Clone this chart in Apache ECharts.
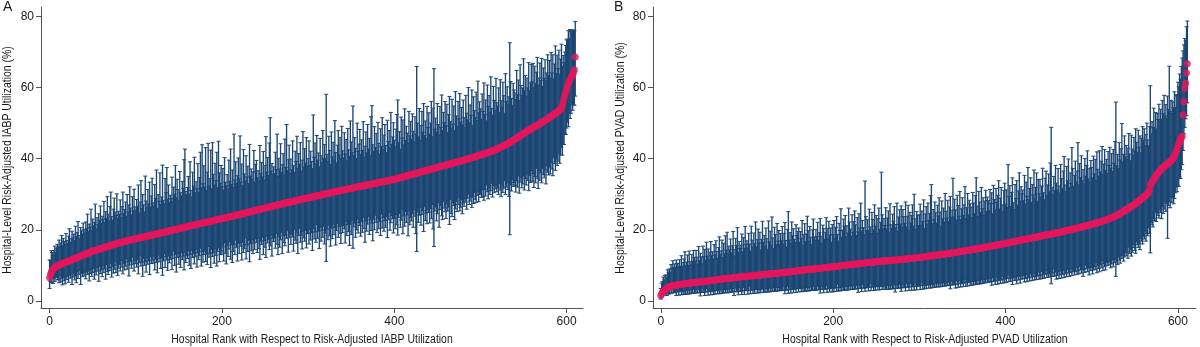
<!DOCTYPE html>
<html><head><meta charset="utf-8">
<script src="https://cdn.jsdelivr.net/npm/echarts@6/dist/echarts.min.js"></script>
<style>html,body{margin:0;padding:0;background:#fff}#c{width:1200px;height:347px}</style>
</head><body><div id="c"></div>
<script>
const tickX = [0, 200, 400, 600];
const tickY = [0, 20, 40, 60, 80];
const panelLabels = ['A', 'B'];
const xTitles = ['Hospital Rank with Respect to Risk-Adjusted IABP Utilization', 'Hospital Rank with Respect to Risk-Adjusted PVAD Utilization'];
const yTitles = ['Hospital-Level Risk-Adjusted IABP Utilization (%)', 'Hospital-Level Risk-Adjusted PVAD Utilization (%)'];

// Panel A: point estimate (%) by hospital rank, upper / lower whisker length (%)
const iabpRate = [
6.5,7.4,8.1,8.6,8.9,9.2,9.4,9.6,9.8,9.9,10.0,10.1,10.2,10.3,10.4,10.5,10.6,10.7,10.8,10.9,
11.0,11.1,11.2,11.3,11.4,11.5,11.6,11.7,11.8,11.9,12.0,12.1,12.2,12.3,12.4,12.5,12.6,12.7,12.8,12.9,
13.0,13.1,13.2,13.3,13.4,13.5,13.6,13.7,13.8,13.9,14.0,14.1,14.1,14.2,14.3,14.4,14.4,14.5,14.6,14.7,
14.8,14.8,14.9,15.0,15.1,15.1,15.2,15.3,15.4,15.4,15.5,15.6,15.7,15.7,15.8,15.9,16.0,16.0,16.1,16.2,
16.2,16.3,16.4,16.4,16.5,16.6,16.6,16.7,16.8,16.8,16.9,17.0,17.0,17.1,17.1,17.2,17.3,17.3,17.4,17.4,
17.5,17.5,17.6,17.6,17.7,17.8,17.8,17.9,17.9,18.0,18.0,18.1,18.1,18.2,18.3,18.3,18.4,18.4,18.5,18.5,
18.6,18.6,18.7,18.8,18.8,18.9,18.9,19.0,19.0,19.1,19.2,19.2,19.3,19.3,19.4,19.4,19.5,19.6,19.6,19.7,
19.7,19.8,19.8,19.9,20.0,20.0,20.1,20.1,20.2,20.3,20.3,20.4,20.4,20.5,20.6,20.6,20.7,20.7,20.8,20.8,
20.9,21.0,21.0,21.1,21.1,21.2,21.2,21.3,21.4,21.4,21.5,21.5,21.6,21.6,21.7,21.8,21.8,21.9,21.9,22.0,
22.0,22.1,22.1,22.2,22.3,22.3,22.4,22.4,22.5,22.5,22.6,22.6,22.7,22.8,22.8,22.9,22.9,23.0,23.0,23.1,
23.1,23.2,23.2,23.3,23.4,23.4,23.5,23.5,23.6,23.6,23.7,23.8,23.8,23.9,23.9,24.0,24.1,24.1,24.2,24.2,
24.3,24.4,24.4,24.5,24.5,24.6,24.7,24.7,24.8,24.8,24.9,25.0,25.0,25.1,25.1,25.2,25.3,25.3,25.4,25.4,
25.5,25.6,25.6,25.7,25.7,25.8,25.9,25.9,26.0,26.0,26.1,26.2,26.2,26.3,26.3,26.4,26.5,26.5,26.6,26.6,
26.7,26.8,26.8,26.9,26.9,27.0,27.1,27.1,27.2,27.2,27.3,27.4,27.4,27.5,27.5,27.6,27.7,27.7,27.8,27.8,
27.9,27.9,28.0,28.0,28.1,28.1,28.2,28.3,28.3,28.4,28.4,28.5,28.5,28.6,28.6,28.7,28.8,28.8,28.9,28.9,
29.0,29.0,29.1,29.1,29.2,29.2,29.3,29.4,29.4,29.5,29.5,29.6,29.6,29.7,29.7,29.8,29.9,29.9,30.0,30.0,
30.1,30.1,30.2,30.2,30.3,30.3,30.4,30.5,30.5,30.6,30.6,30.7,30.7,30.8,30.8,30.9,31.0,31.0,31.1,31.1,
31.2,31.2,31.3,31.3,31.4,31.4,31.5,31.5,31.6,31.6,31.7,31.7,31.8,31.8,31.9,31.9,32.0,32.0,32.1,32.1,
32.2,32.2,32.3,32.3,32.4,32.4,32.5,32.5,32.6,32.6,32.7,32.7,32.8,32.8,32.9,32.9,33.0,33.0,33.1,33.1,
33.2,33.2,33.3,33.3,33.4,33.4,33.5,33.5,33.6,33.6,33.7,33.7,33.8,33.8,33.9,33.9,34.0,34.0,34.1,34.1,
34.2,34.3,34.3,34.4,34.5,34.5,34.6,34.7,34.7,34.8,34.9,34.9,35.0,35.1,35.1,35.2,35.3,35.3,35.4,35.5,
35.5,35.6,35.7,35.7,35.8,35.9,35.9,36.0,36.1,36.1,36.2,36.3,36.3,36.4,36.5,36.5,36.6,36.7,36.7,36.8,
36.9,36.9,37.0,37.1,37.1,37.2,37.3,37.3,37.4,37.5,37.5,37.6,37.7,37.7,37.8,37.9,37.9,38.0,38.1,38.1,
38.2,38.3,38.3,38.4,38.5,38.5,38.6,38.7,38.7,38.8,38.9,38.9,39.0,39.1,39.1,39.2,39.3,39.3,39.4,39.5,
39.5,39.6,39.7,39.8,39.8,39.9,40.0,40.1,40.1,40.2,40.3,40.4,40.4,40.5,40.6,40.7,40.7,40.8,40.9,41.0,
41.0,41.1,41.2,41.3,41.3,41.4,41.5,41.6,41.7,41.7,41.8,41.9,42.0,42.1,42.2,42.3,42.4,42.5,42.6,42.7,
42.8,42.9,43.0,43.2,43.3,43.4,43.5,43.7,43.8,43.9,44.0,44.2,44.3,44.4,44.6,44.7,44.9,45.0,45.2,45.3,
45.5,45.6,45.8,46.0,46.1,46.3,46.4,46.6,46.8,46.9,47.1,47.2,47.4,47.6,47.7,47.9,48.0,48.2,48.3,48.5,
48.6,48.8,48.9,49.0,49.2,49.3,49.5,49.6,49.7,49.9,50.0,50.2,50.3,50.5,50.6,50.8,50.9,51.1,51.2,51.4,
51.6,51.7,51.9,52.1,52.2,52.4,52.6,52.7,52.9,53.1,53.3,53.5,53.7,54.0,54.2,55.0,56.0,57.0,58.0,58.8,
59.6,60.3,61.0,61.7,62.3,62.8,63.2,63.6,64.2,65.0,68.6
];
const iabpUp = [
5,4,6,5,4,5,6,4,5,6,5,7,5,6,8,5,7,6,5,8,
6,5,7,9,5,6,8,6,7,5,9,6,7,10,6,5,8,7,6,9,
7,6,9,7,11,6,8,7,12,6,9,7,8,13,6,9,7,10,8,12,
7,9,8,13,7,10,8,14,9,7,11,15,8,7,10,13,9,8,14,7,
9,8,12,7,10,14,8,9,11,7,13,8,10,15,9,7,12,8,14,9,
8,11,9,15,7,10,16,8,12,9,7,17,10,8,13,9,15,8,11,16,
9,8,14,10,18,7,11,9,17,8,10,19,9,8,15,11,18,9,13,8,
10,9,15,8,12,10,18,9,14,11,8,16,10,9,13,11,19,22,10,9,
11,14,9,18,10,8,15,11,19,9,12,10,17,9,13,20,10,22,11,16,
10,21,9,14,22,10,12,20,9,22,13,10,16,11,19,9,22,13,10,15,
9,14,8,17,10,9,12,8,16,10,19,9,13,8,23,10,15,9,11,16,
10,22,9,14,8,18,11,9,16,10,13,8,19,10,12,9,11,17,8,13,
14,9,11,8,18,10,13,9,16,8,12,20,10,14,9,18,25,10,12,9,
11,9,15,10,20,8,13,10,17,9,11,14,8,18,10,22,9,12,16,8,
12,9,17,10,8,14,11,18,9,13,10,16,8,11,19,9,14,10,17,9,
11,16,9,13,10,8,23,11,15,9,17,10,12,8,16,11,9,18,10,14,
10,28,11,9,16,12,8,17,10,14,9,20,11,8,13,17,10,15,9,18,
11,9,16,10,14,8,17,11,9,19,13,10,23,9,14,11,8,18,10,12,
16,9,13,10,18,8,11,15,9,17,10,13,8,19,22,11,9,16,10,14,
9,17,11,8,15,10,18,9,13,16,10,8,17,11,14,9,19,10,12,16,
11,9,14,18,22,10,13,8,17,11,16,9,19,10,14,12,9,18,11,15,
10,17,12,9,16,11,30,14,10,18,9,13,17,11,19,10,14,9,18,12,
16,10,13,19,9,17,28,11,14,10,18,12,9,17,11,20,10,15,12,18,
11,17,9,14,19,12,10,18,11,16,9,20,13,10,17,12,19,11,15,10,
17,12,9,18,13,11,20,10,15,12,19,9,17,13,11,18,10,21,12,15,
13,10,17,12,20,11,15,9,19,13,16,11,21,12,10,18,14,11,20,13,
12,17,10,19,13,11,18,14,9,20,12,16,11,13,28,17,12,10,16,14,
13,11,19,12,16,10,20,14,11,13,21,12,16,10,15,12,19,11,13,18,
13,18,11,17,12,15,19,11,13,17,12,18,10,15,12,17,11,13,18,12,
16,11,18,12,17,10,14,19,11,16,12,17,10,14,18,11,13,10,12,13,
14,13,15,12,14,13,13,12,12,11,10
];
const iabpDown = [
3,2,3,2,4,3,4,3,3,4,4,5,3,5,4,6,4,5,6,4,
5,4,6,4,5,4,7,5,4,6,5,7,4,6,5,4,8,5,6,5,
6,5,7,5,6,5,8,6,5,7,6,5,8,6,7,5,6,9,5,7,
6,8,5,7,6,9,5,7,8,6,7,5,9,6,8,7,5,8,6,9,
7,6,8,5,7,9,6,8,7,5,8,6,10,7,6,8,5,7,9,6,
7,8,6,10,7,5,8,7,11,6,8,7,10,6,8,7,11,6,8,7,
8,6,10,7,8,11,6,8,7,10,7,12,8,6,10,7,8,11,7,9,
8,7,11,8,6,10,7,12,8,7,10,8,11,7,9,8,12,7,10,8,
9,7,11,8,12,7,9,8,11,9,7,12,8,10,9,7,12,8,11,9,
8,11,9,12,7,10,9,13,8,10,9,12,8,10,13,9,8,12,10,9,
10,8,12,7,10,13,8,11,9,7,12,8,13,10,8,11,7,9,13,8,
11,8,9,13,8,11,10,7,13,9,11,8,14,9,11,8,12,9,11,8,
9,12,8,11,14,9,10,8,13,9,11,14,8,10,9,12,11,8,14,9,
10,9,12,8,11,14,9,12,10,8,14,9,11,12,9,10,8,14,10,9,
12,9,10,14,8,11,12,9,15,10,8,12,10,14,9,11,12,9,14,10,
10,13,9,12,10,15,9,12,10,13,8,12,10,15,9,13,10,12,9,14,
11,19,10,13,9,12,15,10,13,9,12,10,15,11,9,13,10,12,15,10,
12,10,11,15,9,13,10,12,16,10,13,9,17,11,10,14,12,9,13,10,
11,14,10,13,9,12,16,10,13,11,9,14,10,13,11,16,10,13,9,11,
14,10,13,11,15,9,13,10,14,11,13,10,16,11,9,14,12,10,11,15,
11,14,10,13,16,11,10,14,12,9,16,11,14,10,13,11,17,10,14,12,
13,11,15,10,12,17,22,11,14,12,10,15,12,11,17,10,14,12,15,11,
12,15,11,14,10,17,22,12,11,15,13,10,17,12,11,14,15,10,12,13,
15,11,13,12,17,10,14,15,11,12,16,13,11,14,12,10,14,13,11,15,
12,13,11,12,14,11,10,13,12,11,14,11,13,10,12,13,11,10,13,11,
11,12,10,12,13,10,12,9,11,13,10,12,11,9,13,10,12,11,10,12,
11,13,10,12,14,11,13,12,10,14,12,11,13,15,26,12,14,11,13,12,
13,15,12,14,11,16,13,12,15,14,12,16,13,15,12,14,17,13,15,12,
15,13,17,14,16,12,15,18,13,16,14,17,13,15,16,14,18,13,15,16,
14,16,13,15,17,12,14,16,13,15,14,12,15,13,11,14,12,13,11,12,
11,10,12,9,11,10,8,10,9,10,11
];

// Panel B: point estimate (%) by hospital rank, upper / lower whisker length (%)
const pvadRate = [
1.5,2.0,2.4,2.7,2.9,3.1,3.3,3.5,3.7,3.9,4.0,4.1,4.2,4.2,4.3,4.3,4.4,4.4,4.5,4.5,
4.6,4.6,4.6,4.7,4.7,4.7,4.8,4.8,4.8,4.9,4.9,4.9,5.0,5.0,5.0,5.1,5.1,5.1,5.2,5.2,
5.2,5.2,5.3,5.3,5.3,5.3,5.4,5.4,5.4,5.4,5.4,5.5,5.5,5.5,5.6,5.6,5.6,5.7,5.7,5.7,
5.8,5.8,5.8,5.9,5.9,5.9,6.0,6.0,6.0,6.1,6.1,6.1,6.2,6.2,6.2,6.3,6.3,6.3,6.3,6.4,
6.4,6.4,6.5,6.5,6.5,6.5,6.6,6.6,6.6,6.6,6.7,6.7,6.7,6.7,6.8,6.8,6.8,6.8,6.9,6.9,
6.9,6.9,7.0,7.0,7.0,7.0,7.1,7.1,7.1,7.1,7.2,7.2,7.2,7.2,7.3,7.3,7.3,7.3,7.4,7.4,
7.4,7.4,7.5,7.5,7.5,7.5,7.6,7.6,7.6,7.6,7.7,7.7,7.7,7.7,7.8,7.8,7.8,7.8,7.9,7.9,
7.9,7.9,8.0,8.0,8.0,8.0,8.1,8.1,8.1,8.1,8.2,8.2,8.2,8.3,8.3,8.3,8.4,8.4,8.4,8.5,
8.5,8.5,8.5,8.6,8.6,8.6,8.7,8.7,8.7,8.8,8.8,8.8,8.8,8.9,8.9,8.9,9.0,9.0,9.0,9.0,
9.1,9.1,9.1,9.1,9.2,9.2,9.2,9.2,9.3,9.3,9.3,9.3,9.4,9.4,9.4,9.4,9.5,9.5,9.5,9.5,
9.6,9.6,9.6,9.7,9.7,9.7,9.8,9.8,9.8,9.9,9.9,9.9,10.0,10.0,10.0,10.0,10.1,10.1,10.1,10.2,
10.2,10.2,10.2,10.3,10.3,10.3,10.4,10.4,10.4,10.4,10.5,10.5,10.5,10.6,10.6,10.6,10.6,10.7,10.7,10.7,
10.8,10.8,10.8,10.8,10.9,10.9,10.9,10.9,11.0,11.0,11.0,11.0,11.1,11.1,11.1,11.1,11.2,11.2,11.2,11.2,
11.2,11.2,11.2,11.3,11.3,11.3,11.3,11.4,11.4,11.4,11.4,11.5,11.5,11.5,11.5,11.6,11.6,11.6,11.6,11.7,
11.7,11.7,11.7,11.8,11.8,11.8,11.8,11.9,11.9,11.9,11.9,12.0,12.0,12.0,12.0,12.1,12.1,12.1,12.1,12.2,
12.2,12.2,12.3,12.3,12.3,12.4,12.4,12.4,12.5,12.5,12.5,12.6,12.6,12.6,12.7,12.7,12.7,12.8,12.8,12.8,
12.9,12.9,12.9,13.0,13.0,13.0,13.1,13.1,13.1,13.2,13.2,13.2,13.3,13.3,13.3,13.4,13.4,13.5,13.5,13.5,
13.6,13.6,13.6,13.7,13.7,13.8,13.8,13.8,13.9,13.9,14.0,14.0,14.0,14.1,14.1,14.2,14.2,14.2,14.3,14.3,
14.4,14.4,14.5,14.5,14.5,14.6,14.6,14.7,14.7,14.8,14.8,14.8,14.9,14.9,15.0,15.0,15.1,15.1,15.1,15.2,
15.2,15.3,15.3,15.4,15.4,15.5,15.5,15.5,15.6,15.6,15.7,15.7,15.8,15.8,15.9,15.9,16.0,16.0,16.1,16.1,
16.2,16.2,16.3,16.3,16.4,16.4,16.5,16.5,16.6,16.6,16.7,16.7,16.8,16.8,16.9,16.9,17.0,17.0,17.1,17.1,
17.2,17.2,17.3,17.3,17.4,17.4,17.5,17.5,17.6,17.6,17.7,17.7,17.8,17.8,17.9,17.9,18.0,18.0,18.1,18.1,
18.2,18.2,18.3,18.3,18.4,18.4,18.5,18.5,18.6,18.6,18.7,18.7,18.8,18.8,18.9,18.9,19.0,19.0,19.1,19.1,
19.2,19.2,19.3,19.3,19.4,19.4,19.5,19.5,19.6,19.6,19.7,19.8,19.8,19.9,19.9,20.0,20.0,20.1,20.2,20.2,
20.3,20.3,20.4,20.5,20.5,20.6,20.6,20.7,20.8,20.8,20.9,20.9,21.0,21.1,21.1,21.2,21.3,21.3,21.4,21.5,
21.5,21.6,21.7,21.7,21.8,21.9,21.9,22.0,22.1,22.2,22.2,22.3,22.4,22.5,22.5,22.6,22.7,22.8,22.9,23.0,
23.1,23.2,23.3,23.4,23.5,23.6,23.7,23.8,23.9,24.0,24.2,24.3,24.5,24.6,24.8,24.9,25.1,25.2,25.4,25.5,
25.7,25.8,26.0,26.1,26.3,26.4,26.6,26.7,26.9,27.0,27.2,27.4,27.6,27.8,28.0,28.2,28.4,28.6,28.8,29.0,
29.2,29.4,29.6,29.8,30.0,30.3,30.6,31.0,32.5,33.0,33.4,33.8,34.2,34.6,35.0,35.3,35.7,36.0,36.3,36.6,
36.9,37.1,37.4,37.6,37.8,38.0,38.2,38.4,38.6,38.8,39.0,39.2,39.4,39.7,40.0,40.3,40.8,41.4,42.0,42.7,
43.5,44.2,44.8,45.4,45.9,46.3,52.3,56.0,59.8,61.2,64.1,66.7
];
const pvadUp = [
2,3,3,4,3,4,4,3,5,4,5,4,6,5,7,5,6,5,7,6,
6,5,7,5,8,5,6,7,9,5,6,8,5,9,6,5,8,6,9,7,
6,9,7,5,10,6,8,7,5,10,7,9,6,11,7,9,6,8,11,7,
8,6,10,7,11,8,6,9,12,7,8,11,6,10,7,12,8,13,7,9,
8,11,7,9,13,8,6,11,9,14,7,10,8,9,12,7,11,8,14,9,
10,8,12,9,7,14,10,8,12,9,15,8,10,13,9,12,7,10,15,9,
11,8,13,10,7,15,9,12,8,16,10,7,13,11,8,14,9,12,8,11,
9,13,8,11,14,9,7,12,17,9,11,8,14,10,12,9,8,13,10,11,
12,8,11,9,14,7,10,13,8,10,15,11,8,12,9,7,11,14,9,8,
11,9,13,8,10,14,9,7,12,11,8,10,14,11,8,13,9,11,7,12,
9,13,8,11,14,9,7,12,10,16,8,10,13,11,14,8,11,9,16,12,
10,8,14,9,12,15,11,8,13,9,14,10,17,9,12,10,8,23,13,9,
12,9,15,10,8,14,12,9,16,10,13,8,12,15,9,11,25,13,9,12,
10,15,9,12,14,8,16,10,9,13,11,15,9,10,16,8,12,14,10,15,
9,14,12,10,16,9,12,15,8,13,10,12,15,9,18,11,8,13,12,9,
12,15,9,13,10,16,8,12,14,9,15,10,12,17,20,9,13,10,15,12,
9,14,11,16,12,8,15,10,13,9,17,12,10,15,9,13,16,10,12,21,
10,15,12,9,16,13,10,17,9,12,15,10,13,18,9,12,16,10,14,13,
12,9,16,13,10,15,20,12,9,16,13,10,17,11,14,9,13,16,10,14,
13,10,16,12,15,9,17,13,10,16,12,14,18,10,13,16,11,9,15,17,
11,15,10,22,13,16,10,14,18,11,9,16,12,17,10,14,19,11,15,13,
14,11,18,10,16,12,20,11,14,17,10,15,12,19,11,14,18,10,16,12,
16,11,14,19,12,10,16,18,11,14,17,12,20,30,13,11,16,12,19,14,
12,18,13,11,19,15,12,17,21,13,11,18,14,20,12,16,13,23,17,12,
15,19,13,16,24,12,18,14,20,13,16,12,19,14,17,21,13,16,12,18,
16,13,19,14,18,12,20,15,13,20,14,17,21,13,16,20,14,17,13,19,
15,20,14,18,13,19,15,21,32,14,17,13,20,15,18,25,14,16,21,15,
18,14,17,21,15,13,20,16,14,19,15,21,17,14,20,15,18,13,17,20,
16,19,14,17,20,15,13,18,28,14,17,15,20,14,18,13,17,15,19,14,
17,14,19,15,20,14,17,13,19,15,27,14,17,13,16,14,18,13,16,15,
18,16,19,17,20,22,18,16,14,12,13,12
];
const pvadDown = [
1,1,1,1,1,1,1,2,1,2,2,1,2,2,1,2,2,2,3,2,
2,3,2,2,3,2,3,2,3,3,2,3,2,3,3,2,3,3,2,3,
3,2,3,3,2,3,4,3,2,3,3,4,3,2,3,4,3,3,4,3,
3,4,3,4,3,3,4,3,4,3,4,3,4,4,3,4,3,4,4,3,
4,3,4,4,3,5,4,3,4,4,5,3,4,4,5,4,3,5,4,4,
4,5,4,3,5,4,4,5,4,5,4,4,5,4,5,4,5,4,4,5,
5,4,5,4,5,5,4,5,4,5,5,4,5,5,4,5,5,4,5,5,
5,5,4,5,6,5,5,4,6,5,5,6,5,5,6,5,5,6,5,5,
6,5,5,6,5,6,5,6,6,5,6,5,6,6,5,6,6,5,6,6,
6,6,5,6,6,7,6,5,6,7,6,6,5,7,6,6,7,6,6,7,
6,7,6,6,7,5,7,6,7,6,7,6,7,7,6,7,6,7,7,6,
7,6,7,7,6,7,7,6,7,8,6,7,7,8,6,7,7,8,7,7,
7,8,7,6,8,7,7,8,7,8,7,7,8,7,8,7,7,8,7,8,
7,8,8,7,8,7,8,8,7,8,8,7,9,8,7,8,8,7,8,9,
8,7,8,8,9,7,8,8,9,8,7,9,8,8,9,7,8,9,8,8,
8,9,8,7,9,8,9,8,9,8,8,9,8,9,8,9,8,9,9,8,
9,8,9,8,9,9,8,9,8,9,9,8,9,9,8,9,10,8,9,9,
9,9,10,8,9,10,9,8,10,9,9,10,9,8,10,9,10,9,9,10,
9,10,9,10,9,10,10,9,10,9,10,10,9,10,10,9,10,10,9,10,
10,9,10,10,11,9,10,10,11,10,9,11,10,10,11,10,9,11,10,11,
10,11,10,9,11,10,11,10,12,10,11,10,11,12,10,11,10,12,11,10,
11,10,12,11,10,12,11,11,12,10,11,12,11,10,12,11,12,11,10,12,
11,12,10,12,11,12,11,10,12,11,12,11,12,14,11,12,10,12,11,13,
12,11,13,12,11,13,12,11,13,12,12,13,11,12,13,12,11,13,12,12,
13,12,11,13,12,13,11,12,13,12,14,12,13,11,12,13,12,14,12,13,
12,14,13,12,13,11,14,12,13,14,12,13,11,14,12,13,14,12,13,12,
13,12,14,13,12,14,13,12,17,13,14,12,13,14,12,13,12,14,13,12,
13,12,14,11,13,12,14,13,11,12,13,14,11,12,13,12,14,11,12,13,
11,12,10,13,11,12,10,12,19,11,12,13,11,12,10,13,11,12,13,11,
12,14,11,13,12,10,13,11,21,12,11,13,10,12,11,13,12,11,10,12,
11,12,10,11,9,8,10,9,11,10,12,11
];

const NAVY = '#1b4673';
const RED = '#e3175d';
const FONT = "'Liberation Sans',Arial,sans-serif";
const TXT = '#1a1a1a';
const AX = '#555555';
const SQUEEZE = 0.87;

function barData(rate, up, down) {
  return rate.map((v, i) => [i, +(v - down[i]).toFixed(1), +(v + up[i]).toFixed(1)]);
}
function pointData(rate) { return rate.map((v, i) => [i, v]); }

function renderBar(params, api) {
  const x = api.value(0);
  const lo = api.coord([x, api.value(1)]);
  const hi = api.coord([x, api.value(2)]);
  const hw = 2;
  const st = { stroke: NAVY, lineWidth: 1.35 };
  return {
    type: 'group', silent: true, children: [
      { type: 'line', shape: { x1: lo[0], y1: lo[1], x2: hi[0], y2: hi[1] }, style: st },
      { type: 'line', shape: { x1: hi[0] - hw, y1: hi[1], x2: hi[0] + hw, y2: hi[1] }, style: { stroke: NAVY, lineWidth: 1 } },
      { type: 'line', shape: { x1: lo[0] - hw, y1: lo[1], x2: lo[0] + hw, y2: lo[1] }, style: { stroke: NAVY, lineWidth: 1 } }
    ]
  };
}

function xAxisCfg(idx, min, max) {
  return {
    gridIndex: idx, type: 'value', min: min, max: max,
    axisLine: { show: true, onZero: false, lineStyle: { color: AX, width: 1 } },
    axisTick: { show: true, length: 5, customValues: tickX, lineStyle: { color: AX } },
    axisLabel: { customValues: tickX, fontFamily: FONT, fontSize: 12, color: TXT, margin: 8 },
    splitLine: { show: false }
  };
}
function yAxisCfg(idx) {
  return {
    gridIndex: idx, type: 'value', min: -2, max: 82.65,
    axisLine: { show: true, onZero: false, lineStyle: { color: AX, width: 1 } },
    axisTick: { show: true, length: 5, customValues: tickY, lineStyle: { color: AX } },
    axisLabel: { customValues: tickY, fontFamily: FONT, fontSize: 12, color: TXT, margin: 7 },
    splitLine: { show: false }
  };
}
function titleText(text, x, y, rot) {
  return { type: 'text', x: x, y: y, rotation: rot, scaleX: SQUEEZE, silent: true,
    style: { text: text, x: 0, y: 0, fontFamily: FONT, fontSize: 12, fill: TXT, align: 'center', verticalAlign: 'middle' } };
}

const chart = echarts.init(document.getElementById('c'), null, { renderer: 'canvas' });
chart.setOption({
  animation: false,
  backgroundColor: '#ffffff',
  grid: [
    { left: 41, top: 7, width: 542, height: 301 },
    { left: 653, top: 7, width: 543, height: 301 }
  ],
  xAxis: [xAxisCfg(0, -10, 619), xAxisCfg(1, -9, 621)],
  yAxis: [yAxisCfg(0), yAxisCfg(1)],
  graphic: [
    { type: 'text', left: 3, top: 0, silent: true, style: { text: panelLabels[0], fontFamily: FONT, fontSize: 14, fill: TXT } },
    { type: 'text', left: 614, top: 0, silent: true, style: { text: panelLabels[1], fontFamily: FONT, fontSize: 14, fill: TXT } },
    titleText(yTitles[0], 8, 160, Math.PI / 2),
    titleText(yTitles[1], 621, 158, Math.PI / 2),
    titleText(xTitles[0], 312, 340, 0),
    titleText(xTitles[1], 925, 340, 0)
  ],
  series: [
    { type: 'custom', xAxisIndex: 0, yAxisIndex: 0, renderItem: renderBar, data: barData(iabpRate, iabpUp, iabpDown), encode: { x: 0, y: [1, 2] }, progressive: 0, silent: true, z: 2 },
    { type: 'scatter', xAxisIndex: 0, yAxisIndex: 0, data: pointData(iabpRate), symbol: 'circle', symbolSize: 7, itemStyle: { color: RED }, progressive: 0, silent: true, z: 3 },
    { type: 'custom', xAxisIndex: 1, yAxisIndex: 1, renderItem: renderBar, data: barData(pvadRate, pvadUp, pvadDown), encode: { x: 0, y: [1, 2] }, progressive: 0, silent: true, z: 2 },
    { type: 'scatter', xAxisIndex: 1, yAxisIndex: 1, data: pointData(pvadRate), symbol: 'circle', symbolSize: 7, itemStyle: { color: RED }, progressive: 0, silent: true, z: 3 }
  ]
});
</script>
</body></html>
